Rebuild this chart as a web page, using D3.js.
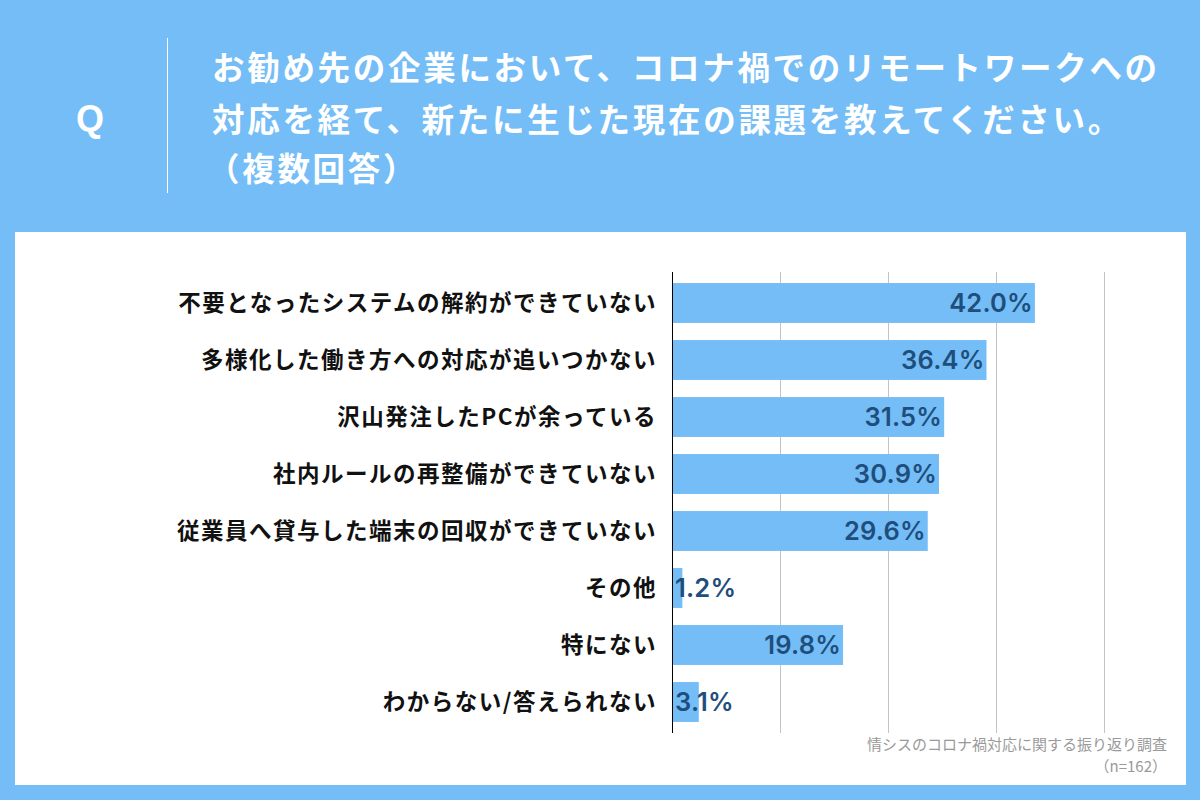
<!DOCTYPE html>
<html><head><meta charset="utf-8">
<script src="https://cdn.jsdelivr.net/npm/d3@7"></script>
<style>
html,body{margin:0;padding:0;background:#74bdf6;}
svg{display:block;}
</style></head>
<body>
<svg id="c" width="1200" height="800"></svg>
<script>
const titleLines = ["お勧め先の企業において、コロナ禍でのリモートワークへの","対応を経て、新たに生じた現在の課題を教えてください。","（複数回答）"];
const categories = ["不要となったシステムの解約ができていない","多様化した働き方への対応が追いつかない","沢山発注したPCが余っている","社内ルールの再整備ができていない","従業員へ貸与した端末の回収ができていない","その他","特にない","わからない/答えられない"];
const values = [42.0,36.4,31.5,30.9,29.6,1.2,19.8,3.1];
const gridTicks = [12.5,25,37.5,50];
const sourceLines = ["情シスのコロナ禍対応に関する振り返り調査","（n=162）"];

const blue = "#74bdf6";
const svg = d3.select("#c");
svg.append("rect").attr("width",1200).attr("height",800).attr("fill",blue);
// header
svg.append("text").attr("x",90).attr("y",131).attr("text-anchor","middle")
  .attr("font-family","Liberation Sans, Arial, sans-serif").attr("font-weight","bold")
  .attr("font-size",36).attr("fill","#fff").text("Q");
svg.append("line").attr("x1",167.5).attr("x2",167.5).attr("y1",38).attr("y2",193)
  .attr("stroke","#fff").attr("stroke-width",1);
const ty=[80,132,181];
svg.selectAll("text.title").data(titleLines).join("text").attr("class","title")
  .attr("x",(d,i)=>i===2?207:212).attr("y",(d,i)=>ty[i])
  .attr("font-family","Noto Sans CJK JP, sans-serif").attr("font-weight","bold")
  .attr("font-size",32.5).attr("letter-spacing",2.7).attr("fill","#fff").text(d=>d);
// panel
svg.append("rect").attr("x",15).attr("y",232).attr("width",1171).attr("height",553).attr("fill","#fff");

const x0=672;
const x = d3.scaleLinear().domain([0,50]).range([x0,1104]);
const y = d3.scaleBand().domain(categories).range([274.5,730.5]).paddingInner(0.3).paddingOuter(0.15);

const g = svg.append("g");
g.selectAll("line.grid").data(gridTicks).join("line").attr("class","grid")
  .attr("x1",d=>Math.round(x(d))+0.5).attr("x2",d=>Math.round(x(d))+0.5)
  .attr("y1",272).attr("y2",733).attr("stroke","#c4c4c4").attr("stroke-width",1);
g.selectAll("rect.bar").data(values).join("rect").attr("class","bar")
  .attr("x",x0).attr("y",(d,i)=>y(categories[i])).attr("height",y.bandwidth())
  .attr("width",d=>x(d)-x0).attr("fill",blue);
g.append("line").attr("x1",x0+0.5).attr("x2",x0+0.5).attr("y1",272).attr("y2",733)
  .attr("stroke","#000").attr("stroke-width",1);
g.selectAll("text.cat").data(categories).join("text").attr("class","cat")
  .attr("x",657).attr("y",d=>y(d)+y.bandwidth()/2).attr("dy","0.36em")
  .attr("text-anchor","end").attr("font-family","Noto Sans CJK JP, sans-serif")
  .attr("font-weight","bold").attr("font-size",22.5).attr("letter-spacing",1.5)
  .attr("fill","#111").text(d=>d);
g.selectAll("text.val").data(values).join("text").attr("class","val")
  .attr("x",d=>d<5?x0+3:x(d)-2).attr("y",(d,i)=>y(categories[i])+y.bandwidth()/2).attr("dy","0.37em")
  .attr("text-anchor",d=>d<5?"start":"end").attr("font-family","Inter, sans-serif")
  .attr("font-weight",600).attr("font-size",25.5).attr("letter-spacing",0.2)
  .attr("fill","#1f4e7c").text(d=>d.toFixed(1)+"%");
// source
svg.selectAll("text.src").data(sourceLines).join("text").attr("class","src")
  .attr("x",1167).attr("y",(d,i)=>750+i*22).attr("text-anchor","end")
  .attr("font-family","Noto Sans CJK JP, sans-serif").attr("font-size",15)
  .attr("fill","#9a9a9a").text(d=>d);
</script>
</body></html>
